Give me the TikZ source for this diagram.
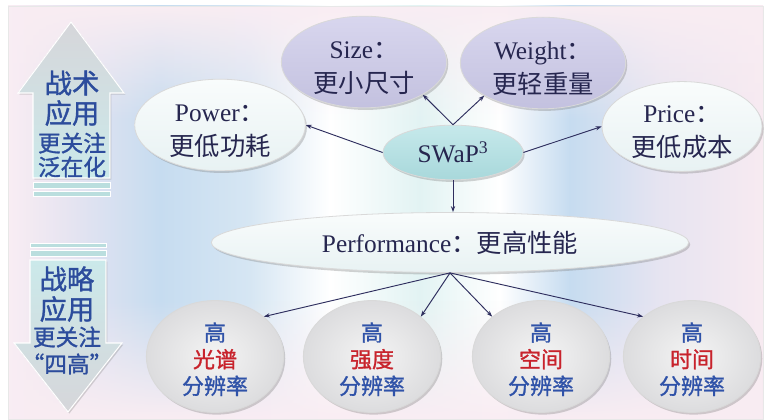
\documentclass[tikz,border=0pt]{standalone}
\usepackage{fontspec}
\setmainfont{Liberation Serif}
\newfontfamily\cjk{Noto Sans CJK SC}
\newfontfamily\cjkb{Noto Sans CJK SC}[FakeBold=1.2]
\usetikzlibrary{shapes.geometric,arrows.meta,shadows,fadings}

\definecolor{txtnavy}{HTML}{26264F}
\definecolor{linenavy}{HTML}{2E2E5E}
\definecolor{lavtop}{HTML}{D8D6EE}
\definecolor{lavbot}{HTML}{C3C1DF}
\definecolor{paletop}{HTML}{F9FCFC}
\definecolor{palebot}{HTML}{E8F2F3}
\definecolor{swaptop}{HTML}{C6E9EB}
\definecolor{swapbot}{HTML}{A8D8DB}
\definecolor{circin}{HTML}{F4F4F4}
\definecolor{circout}{HTML}{DCDCDE}
\definecolor{cblue}{HTML}{2F52A8}
\definecolor{cred}{HTML}{C8232C}
\definecolor{atext}{HTML}{2C4C9C}
\definecolor{argray}{HTML}{D6D6DA}
\definecolor{arcyan}{HTML}{CBE9EA}
\definecolor{stripe}{HTML}{BADEDE}
\definecolor{bgpink}{HTML}{F9EDF3}
\definecolor{bglav}{HTML}{E6E4F1}
\definecolor{bgblue}{HTML}{C6DCF0}
\definecolor{bgblue2}{HTML}{D6E6F3}
\definecolor{bgcyan}{HTML}{E2F3F3}
\definecolor{bgpink2}{HTML}{F7EAF1}

\tikzfading[name=fadetop, top color=transparent!0, bottom color=transparent!100]
\tikzfading[name=fadebot, top color=transparent!100, bottom color=transparent!0]

\tikzset{
  ell/.style={ellipse, inner sep=0pt, draw=white!70!gray, line width=0.6pt,
    drop shadow={opacity=0.35, shadow xshift=1.2pt, shadow yshift=-1.6pt},
    text=txtnavy, align=center, font=\fontsize{19}{25}\selectfont},
  lav/.style={ell, top color=lavtop, bottom color=lavbot,
    minimum width=124pt, minimum height=63pt},
  pale/.style={ell, top color=paletop, bottom color=palebot},
  swapst/.style={ell, top color=swaptop, bottom color=swapbot,
    minimum width=105pt, minimum height=41pt},
  circ/.style={ell, inner color=circin, outer color=circout,
    minimum width=103pt, minimum height=77pt,
    font=\cjkb\fontsize{16.5}{20}\selectfont},
  conn/.style={draw=linenavy, line width=0.7pt, -{Stealth[length=4.5pt,width=3.2pt]}},
  bigarrow/.style={draw=white, line width=0.8pt,
    drop shadow={opacity=0.3, shadow xshift=1pt, shadow yshift=-1.2pt}},
  stripest/.style={fill=stripe, draw=white, line width=0.6pt},
  atxt/.style={text=atext, inner sep=0pt, font=\cjkb\fontsize{20.5}{22}\selectfont},
  atxts/.style={text=atext, inner sep=0pt, font=\cjkb\fontsize{17}{20}\selectfont},
}

\begin{document}
\begin{tikzpicture}[x=0.75pt,y=-0.75pt]
\useasboundingbox (0,0) rectangle (766,420);
\fill[white] (0,0) rectangle (766,420);

% background panel
\shade[left color=bgpink, right color=bglav] (8,6) rectangle (70,419);
\shade[left color=bglav, right color=bgblue] (69.5,6) rectangle (160,419);
\shade[left color=bgblue, right color=bgblue2] (159.5,6) rectangle (250,419);
\shade[left color=bgblue2, right color=white] (249.5,6) rectangle (330,419);
\shade[left color=white, right color=bgcyan] (329.5,6) rectangle (420,419);
\shade[left color=bgcyan, right color=white] (419.5,6) rectangle (500,419);
\shade[left color=white, right color=bgblue] (499.5,6) rectangle (570,419);
\shade[left color=bgblue, right color=bglav] (569.5,6) rectangle (660,419);
\shade[left color=bglav, right color=bgpink2] (659.5,6) rectangle (763,419);
\fill[bgpink, path fading=fadetop] (8,6) rectangle (763,120);
\fill[bgpink, path fading=fadebot] (8,300) rectangle (763,419);
\draw[white!82!gray, line width=0.6pt] (8,6) rectangle (763,419);

% up arrow (tactical)
\fill[top color=argray, bottom color=arcyan, bigarrow]
  (71,22) -- (124,93) -- (110,93) -- (110,178) -- (33,178) -- (33,93) -- (18,93) -- cycle;
\fill[stripest] (33,182) rectangle (110,188);
\fill[stripest] (33,191.5) rectangle (110,196);
\node[atxt] (u1) at (72,83) {战术};
\node[atxt] (u2) at (72,113) {应用};
\node[atxts] (u3) at (72,143) {更关注};
\node[atxts] (u4) at (72,167) {泛在化};

% down arrow (strategic)
\fill[stripest] (30,243) rectangle (106,247);
\fill[stripest] (30,250) rectangle (106,256.5);
\fill[top color=arcyan, bottom color=argray, bigarrow]
  (30,260) -- (106,260) -- (106,343) -- (122,343) -- (68,412) -- (14,343) -- (30,343) -- cycle;
\node[atxt] (d1) at (67,279) {战略};
\node[atxt] (d2) at (67,309) {应用};
\node[atxts] (d3) at (67,337) {更关注};
\node[atxts] (d4) at (67,364) {“四高”};

% top ellipses
\node[lav] (size) at (364,62) {\rule{0pt}{22pt}Size{\cjk ：}\\{\cjk 更小尺寸}};
\node[lav] (weight) at (543,63) {\rule{0pt}{22pt}Weight{\cjk ：}\\{\cjk 更轻重量}};
\node[pale, minimum width=128pt, minimum height=63pt] (power) at (220,125)
  {\rule{0pt}{22pt}Power{\cjk ：}\\{\cjk 更低功耗}};
\node[pale, minimum width=120pt, minimum height=65pt] (price) at (682,126.5)
  {\rule{0pt}{21pt}Price{\cjk ：}\\{\cjk 更低成本}};
\node[swapst] (swap) at (453,152.5) {SWaP\textsuperscript{3}};
\node[pale, minimum width=358pt, minimum height=45pt] (perf) at (450,242.5)
  {Performance{\cjk ：更高性能}};

% bottom circles
\node[circ] (c1) at (215,356.5) {\rule{0pt}{18pt}{\color{cblue}高}\\{\color{cred}光谱}\\{\color{cblue}分辨率}};
\node[circ] (c2) at (372,356.5) {\rule{0pt}{18pt}{\color{cblue}高}\\{\color{cred}强度}\\{\color{cblue}分辨率}};
\node[circ] (c3) at (541,356.5) {\rule{0pt}{18pt}{\color{cblue}高}\\{\color{cred}空间}\\{\color{cblue}分辨率}};
\node[circ] (c4) at (692,356.5) {\rule{0pt}{18pt}{\color{cblue}高}\\{\color{cred}时间}\\{\color{cblue}分辨率}};

% connectors
\draw[conn] (swap.north) -- (size.south east);
\draw[conn] (swap.north) -- (weight.south west);
\draw[conn] (swap.west) -- (power.east);
\draw[conn] (swap.east) -- (price.west);
\draw[conn] (swap.south) -- (swap.south |- perf.north);
\draw[conn] (perf.south) -- (c1.north east);
\draw[conn] (perf.south) -- (c2.north east);
\draw[conn] (perf.south) -- (c3.north west);
\draw[conn] (perf.south) -- (c4.north west);
\end{tikzpicture}
\end{document}
